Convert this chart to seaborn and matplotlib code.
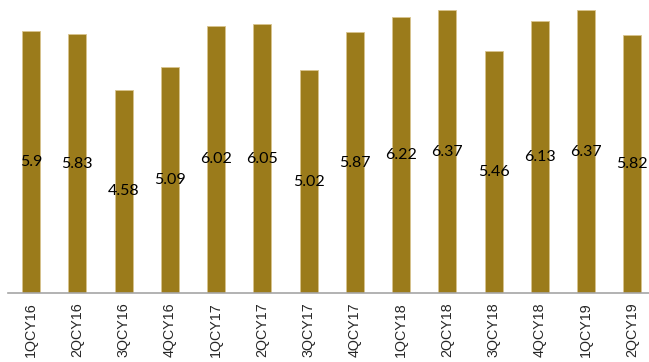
import matplotlib
matplotlib.use("Agg")
import matplotlib.pyplot as plt
import seaborn as sns
import pandas as pd

# quarterly values
quarters = ["1QCY16", "2QCY16", "3QCY16", "4QCY16", "1QCY17", "2QCY17", "3QCY17",
            "4QCY17", "1QCY18", "2QCY18", "3QCY18", "4QCY18", "1QCY19", "2QCY19"]
values = [5.9, 5.83, 4.58, 5.09, 6.02, 6.05, 5.02, 5.87, 6.22, 6.37, 5.46, 6.13, 6.37, 5.82]

df = pd.DataFrame({"quarter": quarters, "value": values})

sns.set_style("white")
fig = plt.figure(figsize=(6.49, 3.62), dpi=100)
ax = fig.add_axes([8 / 649, 69 / 362, 1 - 8 / 649, 293 / 362])

sns.barplot(data=df, x="quarter", y="value", color="#9B7B1B", saturation=1,
            width=0.39, edgecolor="#D8C48E", linewidth=0.6, ax=ax)

# labels in the middle of each bar
for i, v in enumerate(values):
    ax.text(i, v / 2, f"{v:g}", ha="center", va="center", fontsize=11.5,
            family="Lato", color="black")

ax.set_ylim(0, 6.6)
ax.set_xlim(-0.5, 13.36)
ax.set_xlabel("")
ax.set_ylabel("")
ax.set_yticks([])
for s in ["top", "right", "left"]:
    ax.spines[s].set_visible(False)
ax.spines["bottom"].set_color("#A6A6A6")
ax.spines["bottom"].set_linewidth(1.2)
ax.tick_params(axis="x", length=0, pad=7, labelsize=10.3, labelrotation=90)
for lab in ax.get_xticklabels():
    lab.set_family("Liberation Sans")

fig.savefig("out.png", dpi=100)
